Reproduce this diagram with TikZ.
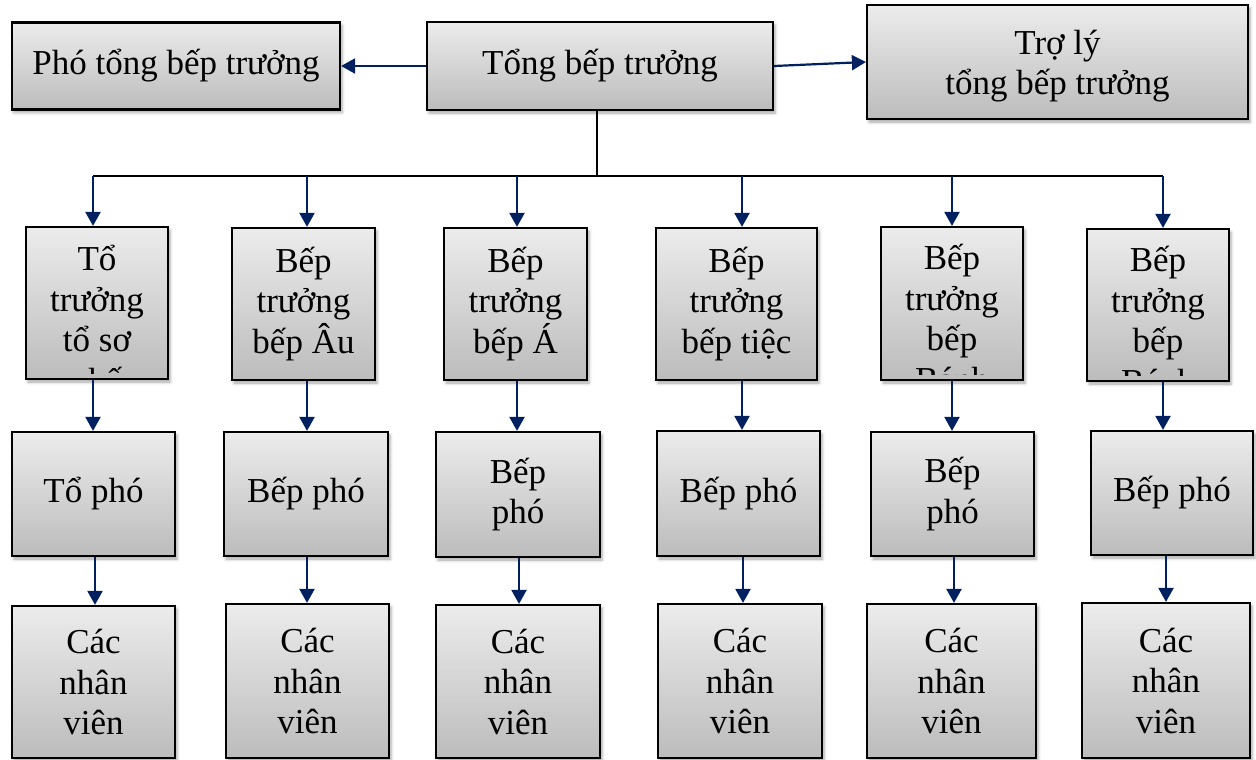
\documentclass[tikz,border=0pt]{standalone}
\usepackage{fontspec}
\setmainfont{Liberation Serif}
\usetikzlibrary{arrows.meta,shadows.blur}

\definecolor{navy}{RGB}{0,32,96}
\definecolor{boxtop}{RGB}{236,236,236}
\definecolor{boxbot}{RGB}{188,188,188}

\tikzset{
  txt/.style={align=center, inner sep=0pt, font=\fontsize{35pt}{40.5pt}\selectfont},
  box/.style={txt, draw=black, line width=2.2pt, top color=boxtop, bottom color=boxbot,
    blur shadow={shadow xshift=2pt, shadow yshift=-3pt, shadow blur radius=3pt, shadow opacity=35}},
  link/.style={navy, line width=2.2pt, -{Triangle[width=15pt,length=14pt]}},
  bus/.style={black, line width=2.2pt},
}

\begin{document}
\begin{tikzpicture}[x=1pt,y=-1pt]
\useasboundingbox (0,0) rectangle (1256,760);

% top level
\node[box, minimum width=328pt, minimum height=87pt]  (pho)   at (176,66)  {Phó tổng bếp trưởng};
\node[box, minimum width=346pt, minimum height=88pt]  (tong)  at (600,66)    {Tổng bếp trưởng};
\node[box, minimum width=381pt, minimum height=114pt] (troly) at (1057.5,62) {};
\node[txt, anchor=base] (ttroly) at (1057.5,95) {Trợ lý\\tổng bếp trưởng};

% heads of the kitchens
\node[box, minimum width=142pt, minimum height=152pt] (r2a) at (97,303)     {};
\node[box, minimum width=143pt, minimum height=152pt] (r2b) at (303.5,304)  {Bếp\\trưởng\\bếp Âu};
\node[box, minimum width=143pt, minimum height=152pt] (r2c) at (515.5,304)  {Bếp\\trưởng\\bếp Á};
\node[box, minimum width=161pt, minimum height=152pt] (r2d) at (736.5,304)  {Bếp\\trưởng\\bếp tiệc};
\node[box, minimum width=142pt, minimum height=153pt] (r2e) at (952,303.5)  {};
\node[box, minimum width=142pt, minimum height=152pt] (r2f) at (1158,305)   {};

% overflowing titles, cut off by their boxes (base = last line)
\begin{scope}
  \clip ([yshift=7pt]r2a.south west) rectangle (r2a.north east);
  \node[txt, anchor=base] (t2a) at (97,392) {Tổ\\trưởng\\tổ sơ\\chế};
\end{scope}
\begin{scope}
  \clip ([yshift=7pt]r2e.south west) rectangle (r2e.north east);
  \node[txt, anchor=base] (t2e) at (952,391) {Bếp\\trưởng\\bếp\\Bánh};
\end{scope}
\begin{scope}
  \clip ([yshift=7pt]r2f.south west) rectangle (r2f.north east);
  \node[txt, anchor=base] (t2f) at (1158,393) {Bếp\\trưởng\\bếp\\Bánh};
\end{scope}

% deputies
\node[box, minimum width=163pt, minimum height=124pt] (r3a) at (93.5,494)   {Tổ phó};
\node[box, minimum width=164pt, minimum height=124pt] (r3b) at (306,494)    {Bếp phó};
\node[box, minimum width=164pt, minimum height=125pt] (r3c) at (518,494.5)  {Bếp\\phó};
\node[box, minimum width=163pt, minimum height=125pt] (r3d) at (738.5,493.5){Bếp phó};
\node[box, minimum width=163pt, minimum height=124pt] (r3e) at (952.5,494)  {Bếp\\phó};
\node[box, minimum width=162pt, minimum height=124pt] (r3f) at (1172,493)   {Bếp phó};

% staff
\node[box, minimum width=163pt, minimum height=152pt] (r4a) at (93.5,682)   {Các\\nhân\\viên};
\node[box, minimum width=163pt, minimum height=154pt] (r4b) at (307.5,681)  {Các\\nhân\\viên};
\node[box, minimum width=164pt, minimum height=153pt] (r4c) at (518,681.5)  {Các\\nhân\\viên};
\node[box, minimum width=164pt, minimum height=154pt] (r4d) at (740,681)    {Các\\nhân\\viên};
\node[box, minimum width=169pt, minimum height=154pt] (r4e) at (951.5,681)  {Các\\nhân\\viên};
\node[box, minimum width=168pt, minimum height=155pt] (r4f) at (1166,680.5) {Các\\nhân\\viên};

% side links
\draw[link] (tong.west) -- (pho.east);
\draw[link] (tong.east) -- (troly.west);

% distribution bus
\coordinate (j)  at (597,176);
\coordinate (d1) at (93,176);
\coordinate (d2) at (307,176);
\coordinate (d3) at (517,176);
\coordinate (d4) at (742,176);
\coordinate (d5) at (952,176);
\coordinate (d6) at (1163,176);
\draw[bus] (j |- tong.south) -- (j);
\draw[bus] (d1) -- (d6);

% columns for the lower links
\coordinate (e1) at (95,0);
\coordinate (e2) at (307,0);
\coordinate (e3) at (519,0);
\coordinate (e4) at (743,0);
\coordinate (e5) at (954,0);
\coordinate (e6) at (1166,0);

\foreach \i/\c in {1/a,2/b,3/c,4/d,5/e,6/f}{
  \draw[link] (d\i) -- (d\i |- r2\c.north);
  \draw[link] (d\i |- r2\c.south) -- (d\i |- r3\c.north);
  \draw[link] (e\i |- r3\c.south) -- (e\i |- r4\c.north);
}
\end{tikzpicture}
\end{document}
